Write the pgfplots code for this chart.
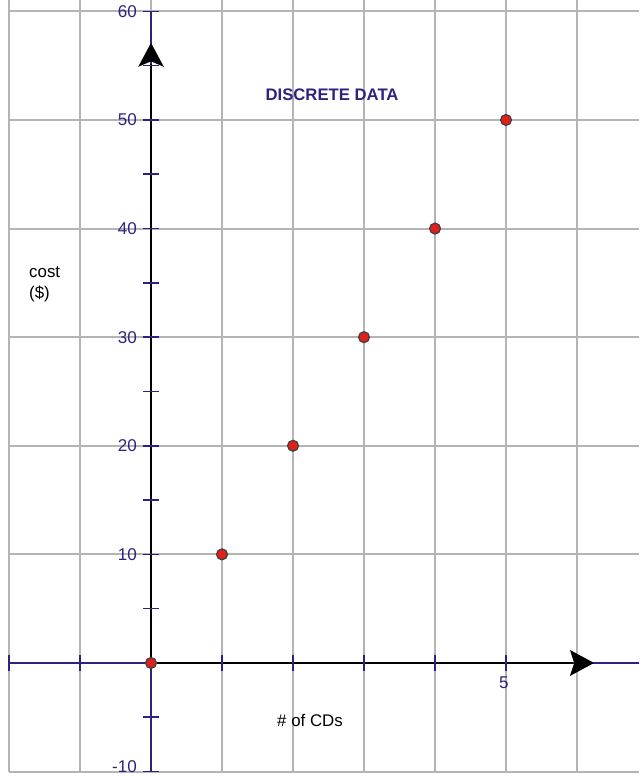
\documentclass[border=0pt]{standalone}
\usepackage{pgfplots}
\pgfplotsset{compat=1.18}
\usepackage{fontspec}
\setmainfont{Liberation Sans}
\definecolor{gridgray}{HTML}{B4B4B4}
\definecolor{navy}{HTML}{2E2280}
\definecolor{dotred}{HTML}{E0201B}
\begin{document}
\begin{tikzpicture}
\begin{axis}[hide axis, scale only axis, width=12.78cm, height=15.54cm,
  xmin=-2.127, xmax=6.873, ymin=-10.50, ymax=61.05, clip=true]
% grid
\pgfplotsinvokeforeach{-2,...,6}{\draw[gridgray, line width=1.1pt] (axis cs:#1,-10) -- (axis cs:#1,61.05);}
\pgfplotsinvokeforeach{-10,0,10,20,30,40,50,60}{\draw[gridgray, line width=1.1pt] (axis cs:-2,#1) -- (axis cs:6.873,#1);}
% navy axis lines
\draw[navy, line width=0.9pt] (axis cs:-2,0) -- (axis cs:6.873,0);
\draw[navy, line width=0.9pt] (axis cs:0,-10) -- (axis cs:0,60);
% black positive parts
\draw[black, line width=1.1pt] (axis cs:0,0) -- (axis cs:5.95,0);
\draw[black, line width=1.1pt] (axis cs:0,0) -- (axis cs:0,55.2);
% ticks
\pgfplotsinvokeforeach{-10,-5,5,10,15,20,25,30,35,40,45,50,55,60}{\draw[navy, line width=0.9pt] (axis cs:-0.117,#1) -- (axis cs:0.117,#1);}
\pgfplotsinvokeforeach{-2,-1,1,2,3,4,5}{\draw[navy, line width=0.9pt] (axis cs:#1,-0.7) -- (axis cs:#1,0.7);}
% arrows
\fill[black] (axis cs:5.90,1.2) -- (axis cs:6.24,0) -- (axis cs:5.90,-1.2) -- (axis cs:5.96,0) -- cycle;
\fill[black] (axis cs:-0.18,54.9) -- (axis cs:0,57.1) -- (axis cs:0.18,54.9) -- (axis cs:0,55.4) -- cycle;
% tick labels
\pgfplotsinvokeforeach{10,20,30,40,50,60}{\node[anchor=east, text=navy, inner sep=0pt, font=\fontsize{9.7}{11}\selectfont] at (axis cs:-0.195,#1) {#1};}
\node[anchor=east, text=navy, inner sep=0pt, font=\fontsize{9.7}{11}\selectfont] at (axis cs:-0.195,-9.55) {-10};
\node[text=navy, inner sep=0pt, font=\fontsize{9.7}{11}\selectfont] at (axis cs:4.97,-1.85) {5};
% titles
\node[text=navy, inner sep=0pt, font=\fontsize{9.5}{11}\selectfont\bfseries] at (axis cs:2.55,52.3) {DISCRETE DATA};
\node[inner sep=0pt, font=\fontsize{9.6}{11}\selectfont] at (axis cs:2.24,-5.25) {\# of CDs};
\node[anchor=west, align=left, inner sep=0pt, font=\fontsize{9.6}{12}\selectfont] at (axis cs:-1.72,34.9) {cost\\(\$)};
% data
\addplot[only marks, mark=*, mark size=3.1pt, mark options={fill=dotred, draw=black!75, line width=0.7pt}]
  coordinates {(0,0) (1,10) (2,20) (3,30) (4,40) (5,50)};
\end{axis}
\pgfresetboundingbox
\path (0,0) rectangle (12.78cm,15.54cm);
\end{tikzpicture}
\end{document}
